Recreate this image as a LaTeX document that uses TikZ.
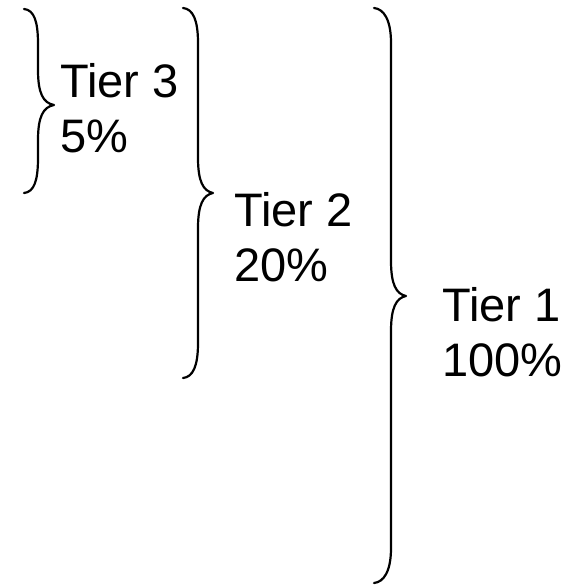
\documentclass[tikz,border=0pt]{standalone}
\usepackage{fontspec}
\setmainfont{Liberation Sans}
% right brace: end x, stem x, tip x, top y, tip y, bottom y
\newcommand{\tierbrace}[6]{%
    \draw[bracestroke] (#1,#4) .. controls ({#1+10},{#4+1}) and (#2,{#4+12}) .. (#2,{#4+35})
        -- (#2,{#5-35}) .. controls (#2,{#5-12}) and ({#2+5},{#5-2}) .. (#3,#5)
        .. controls ({#2+5},{#5+2}) and (#2,{#5+12}) .. (#2,{#5+35})
        -- (#2,{#6-35}) .. controls (#2,{#6-12}) and ({#1+10},{#6-1}) .. (#1,#6);}
\begin{document}
\begin{tikzpicture}[x=1pt, y=-1pt,
    bracestroke/.style={line width=2.2pt, line join=round, line cap=round},
    tierlabel/.style={anchor=west, align=left, inner sep=0pt,
        font=\fontsize{47}{55}\selectfont}]
    \useasboundingbox (0,0) rectangle (576,585);

    % Tier 3
    \tierbrace{24}{38}{54}{9}{105}{193}
    \node[tierlabel] (tier3) at (60,108) {Tier 3\\5\%};

    % Tier 2
    \tierbrace{183}{198}{213}{8}{193}{378}
    \node[tierlabel] (tier2) at (234,237) {Tier 2\\20\%};

    % Tier 1
    \tierbrace{374}{391}{406}{8}{296}{583}
    \node[tierlabel] (tier1) at (442,332) {Tier 1\\100\%};
\end{tikzpicture}
\end{document}
